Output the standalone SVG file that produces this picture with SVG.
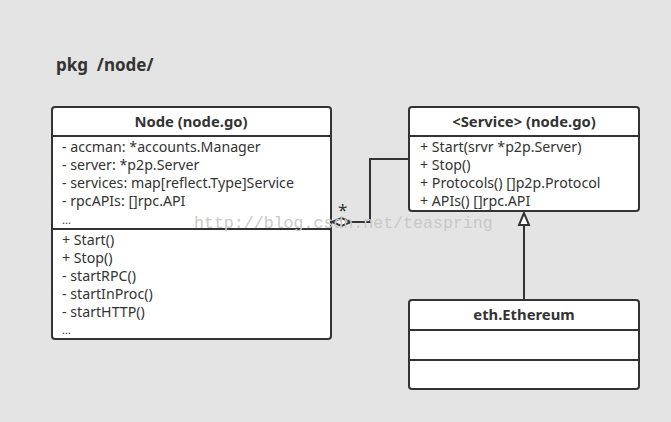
<svg xmlns="http://www.w3.org/2000/svg" width="671" height="422" viewBox="0 0 671 422">
<style>
.box{fill:#fff;stroke:#333;stroke-width:2}
.ln{stroke:#333;stroke-width:2;fill:none}
.t{font-family:"Noto Sans","Open Sans",sans-serif;font-size:14.2px;fill:#333}
.d{font-family:"Noto Sans","Open Sans",sans-serif;font-size:11px;fill:#333}
.h{font-family:"Noto Sans","Open Sans",sans-serif;font-size:14.8px;font-weight:bold;fill:#333;text-anchor:middle}
.wm{font-family:"Liberation Mono",monospace;font-size:16.6px;fill:#c8c8c8}
</style>
<rect width="671" height="422" fill="#e4e4e4"/>
<text x="56" y="71" font-family="Noto Sans, sans-serif" font-size="17" font-weight="bold" fill="#333" xml:space="preserve">pkg  /node/</text>
<g id="node">
<rect class="box" x="52" y="107" width="279" height="232" rx="3"/>
<line class="ln" x1="52" y1="136" x2="331" y2="136"/>
<line class="ln" x1="52" y1="229" x2="331" y2="229"/>
<text class="h" x="191" y="127">Node (node.go)</text>
<text class="t" x="62" y="152">- accman: *accounts.Manager</text>
<text class="t" x="62" y="170">- server: *p2p.Server</text>
<text class="t" x="62" y="188">- services: map[reflect.Type]Service</text>
<text class="t" x="62" y="206">- rpcAPIs: []rpc.API</text>
<text class="d" x="62" y="224">...</text>
<text class="t" x="62" y="245">+ Start()</text>
<text class="t" x="62" y="263">+ Stop()</text>
<text class="t" x="62" y="281">- startRPC()</text>
<text class="t" x="62" y="299">- startInProc()</text>
<text class="t" x="62" y="317">- startHTTP()</text>
<text class="d" x="62" y="334">...</text>
</g>
<g id="service">
<rect class="box" x="409" y="107" width="230" height="104" rx="3"/>
<line class="ln" x1="409" y1="136" x2="639" y2="136"/>
<text class="h" x="524" y="127">&lt;Service&gt; (node.go)</text>
<text class="t" x="420" y="152">+ Start(srvr *p2p.Server)</text>
<text class="t" x="420" y="170">+ Stop()</text>
<text class="t" x="420" y="188">+ Protocols() []p2p.Protocol</text>
<text class="t" x="420" y="206">+ APIs() []rpc.API</text>
</g>
<g id="ethereum">
<rect class="box" x="409" y="300" width="230" height="89" rx="3"/>
<line class="ln" x1="409" y1="330" x2="639" y2="330"/>
<line class="ln" x1="409" y1="360" x2="639" y2="360"/>
<text class="h" x="524" y="320">eth.Ethereum</text>
</g>
<g id="connectors">
<polyline class="ln" points="351,222 370,222 370,159 409,159"/>
<polygon points="332,222 341.5,218 351,222 341.5,226" fill="#fff" stroke="#333" stroke-width="2"/>
<text x="338" y="216" font-family="Noto Sans, sans-serif" font-size="17" fill="#333">*</text>
<line class="ln" x1="524" y1="300" x2="524" y2="225"/>
<polygon points="524,213 519,225 529,225" fill="#fff" stroke="#333" stroke-width="2"/>
</g>
<text class="wm" x="194" y="228">http://blog.csdn.net/teaspring</text>
</svg>
